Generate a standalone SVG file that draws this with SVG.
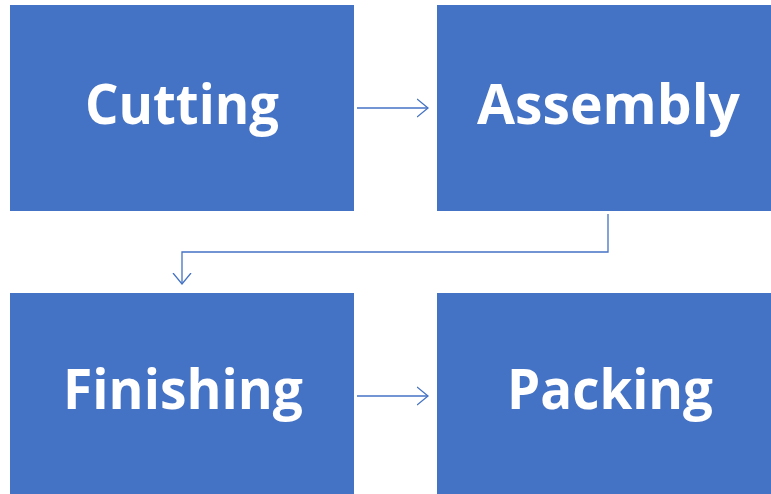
<svg xmlns="http://www.w3.org/2000/svg" width="771" height="494" viewBox="0 0 771 494">
<defs>
<style>
.box{fill:#4472C4;}
.lbl{fill:#fff;font-family:"Open Sans","Liberation Sans",sans-serif;font-weight:bold;font-size:55px;text-anchor:middle;}
.con{fill:none;stroke:#4472C4;stroke-width:1.3;}
</style>
<marker id="arr" viewBox="0 0 12 20" refX="11" refY="10" markerWidth="12" markerHeight="20" markerUnits="userSpaceOnUse" orient="auto">
<path d="M0,1 L11,10 L0,19" fill="none" stroke="#4472C4" stroke-width="1.3"/>
</marker>
</defs>
<rect width="771" height="494" fill="#fff"/>
<g id="cutting"><rect class="box" x="10" y="5" width="344" height="206"/><text class="lbl" x="182" y="124" textLength="194" lengthAdjust="spacingAndGlyphs">Cutting</text></g>
<g id="assembly"><rect class="box" x="437" y="5" width="334" height="206"/><text class="lbl" x="608.5" y="124" textLength="263" lengthAdjust="spacingAndGlyphs">Assembly</text></g>
<g id="finishing"><rect class="box" x="10" y="293" width="344" height="201"/><text class="lbl" x="183" y="409" textLength="240" lengthAdjust="spacingAndGlyphs">Finishing</text></g>
<g id="packing"><rect class="box" x="437" y="293" width="334" height="201"/><text class="lbl" x="610" y="409" textLength="206" lengthAdjust="spacingAndGlyphs">Packing</text></g>
<g id="connectors">
<path class="con" d="M357,108 H428" marker-end="url(#arr)"/>
<path class="con" d="M608,214 V252 H182 V284" marker-end="url(#arr)"/>
<path class="con" d="M357,396 H428" marker-end="url(#arr)"/>
</g>
</svg>
